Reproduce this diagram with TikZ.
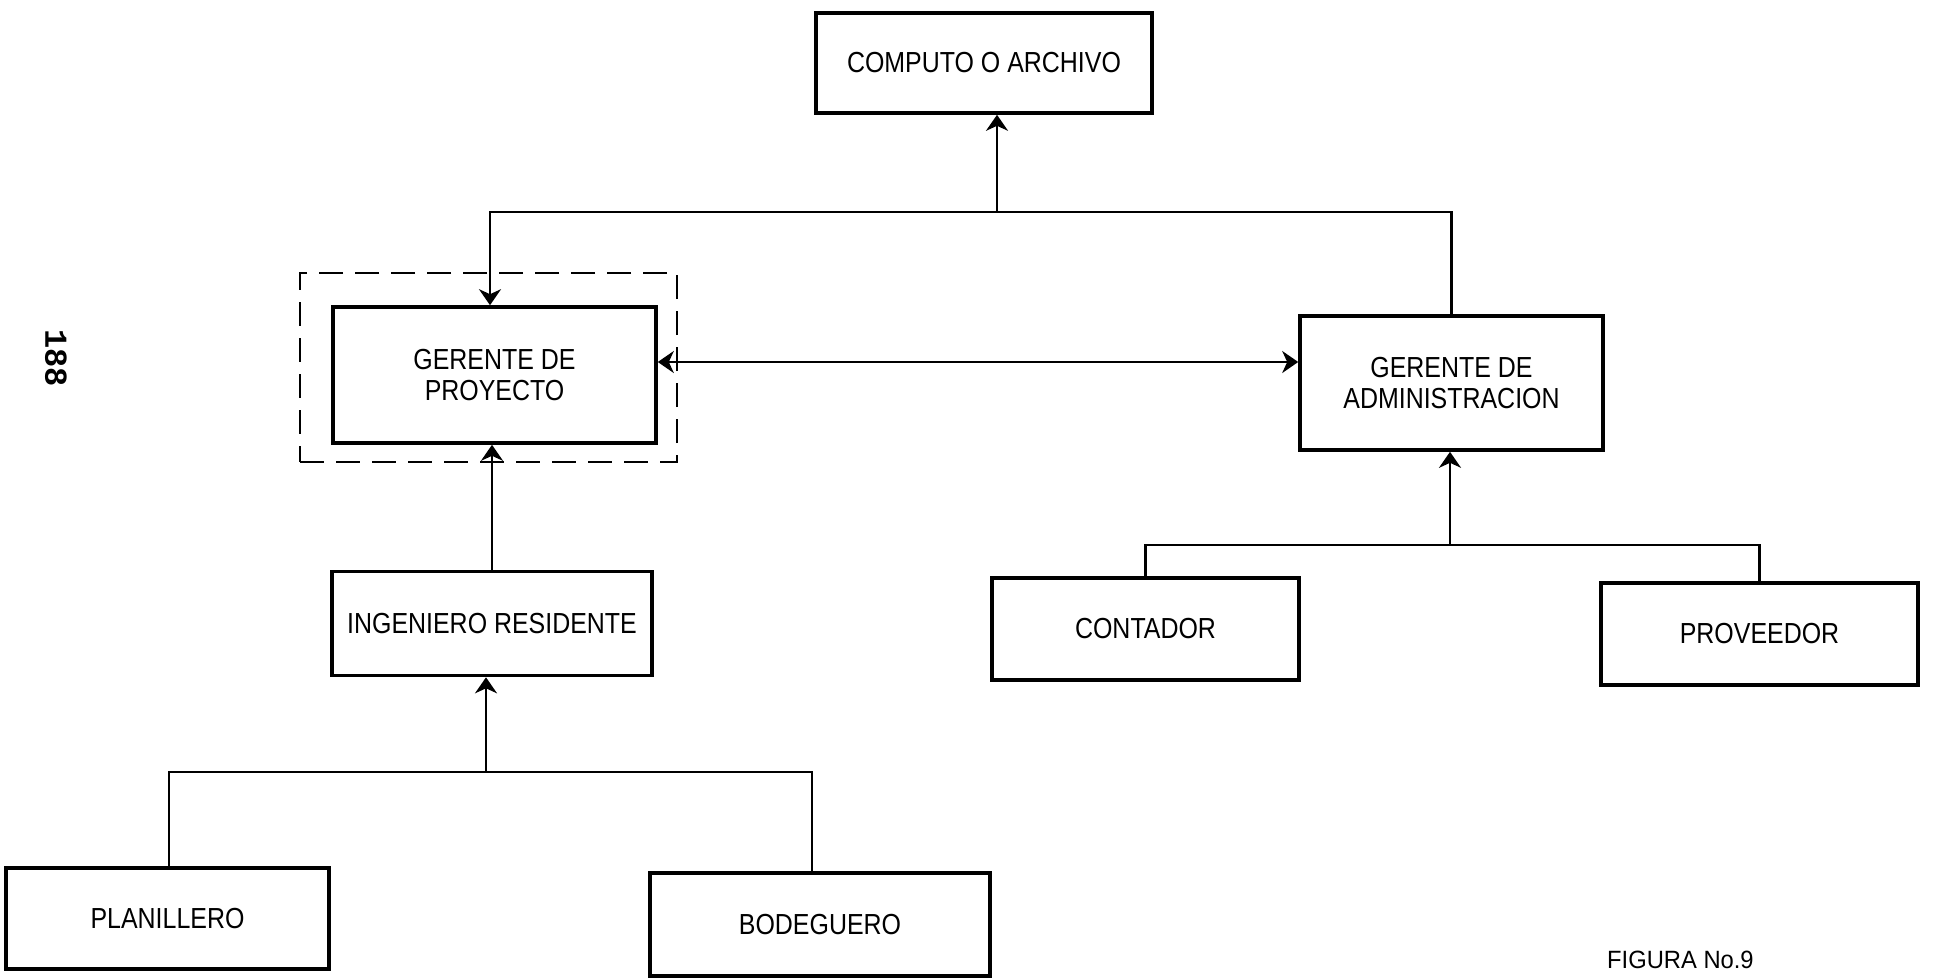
\documentclass[tikz,border=0pt]{standalone}
\usepackage{fontspec}
\setmainfont{Liberation Sans}[FakeStretch=0.86]
\newfontfamily\figfont{Liberation Sans}[FakeStretch=0.95]
\newfontfamily\pagefont{Liberation Mono}
\usetikzlibrary{arrows.meta}

\tikzset{
  box/.style={draw=black, line width=3.6pt, fill=white, inner sep=2pt,
    align=center, font=\fontsize{29}{31}\selectfont},
  groupbox/.style={draw=black, line width=2.4pt, dash pattern=on 24pt off 12pt},
  conn/.style={draw=black, line width=2.2pt},
  head/.tip={Stealth[length=16pt, width=22pt, inset=5pt]},
  tip/.style={-head},
  dbltip/.style={head-head},
}

\begin{document}
\begin{tikzpicture}[x=1pt, y=-1pt]
  \useasboundingbox[fill=white] (0,0) rectangle (1934,977);

  % page number, set sideways in the margin
  \node[font=\pagefont\bfseries\fontsize{32}{32}\selectfont, rotate=-90] (page) at (56,358) {188};

  % group frame around the project manager
  \node[groupbox, minimum width=377pt, minimum height=189pt] (grp) at (488.5,367.5) {};

  % boxes
  \node[box, minimum width=336pt, minimum height=100pt] (comp) at (984,63) {COMPUTO O ARCHIVO};
  \node[box, minimum width=323pt, minimum height=136pt] (pm) at (494.5,375) {GERENTE DE\\PROYECTO};
  \node[box, minimum width=303pt, minimum height=134pt] (ga) at (1451.5,383) {GERENTE DE\\ADMINISTRACION};
  \node[box, minimum width=320pt, minimum height=104pt] (ing) at (492,623.5) {INGENIERO RESIDENTE};
  \node[box, minimum width=307pt, minimum height=102pt] (cont) at (1145.5,629) {CONTADOR};
  \node[box, minimum width=317pt, minimum height=102pt] (prov) at (1759.5,634) {PROVEEDOR};
  \node[box, minimum width=323pt, minimum height=101pt] (plan) at (167.5,918.5) {PLANILLERO};
  \node[box, minimum width=340pt, minimum height=103pt] (bod) at (820,924.5) {BODEGUERO};

  % caption
  \node[font=\figfont\fontsize{25}{25}\selectfont, anchor=base west, inner sep=0pt] (cap) at (1607,968) {FIGURA No.9};

  % junction points of the connector bars
  \coordinate (tL) at (490,212);
  \coordinate (tM) at (997,212);
  \coordinate (dy) at (0,362);
  \coordinate (bL) at (169,772);
  \coordinate (bM) at (486,772);
  \coordinate (bR) at (812,772);
  \coordinate (rM) at (1450,545);

  % top level: both managers report to computing / archive
  \draw[conn, tip] (ga.north) |- (tL) -- (tL |- pm.north);
  \draw[conn, tip] (tM) -- (tM |- comp.south);

  % link between the two managers
  \draw[conn, dbltip] (pm.east |- dy) -- (ga.west |- dy);

  % project branch
  \draw[conn, tip] (ing.north) -- (ing.north |- pm.south);
  \draw[conn] (bL |- plan.north) -- (bL) -- (bR) -- (bR |- bod.north);
  \draw[conn, tip] (bM) -- (bM |- ing.south);

  % administration branch
  \draw[conn] (cont.north) |- (rM) -| (prov.north);
  \draw[conn, tip] (rM) -- (rM |- ga.south);
\end{tikzpicture}
\end{document}
